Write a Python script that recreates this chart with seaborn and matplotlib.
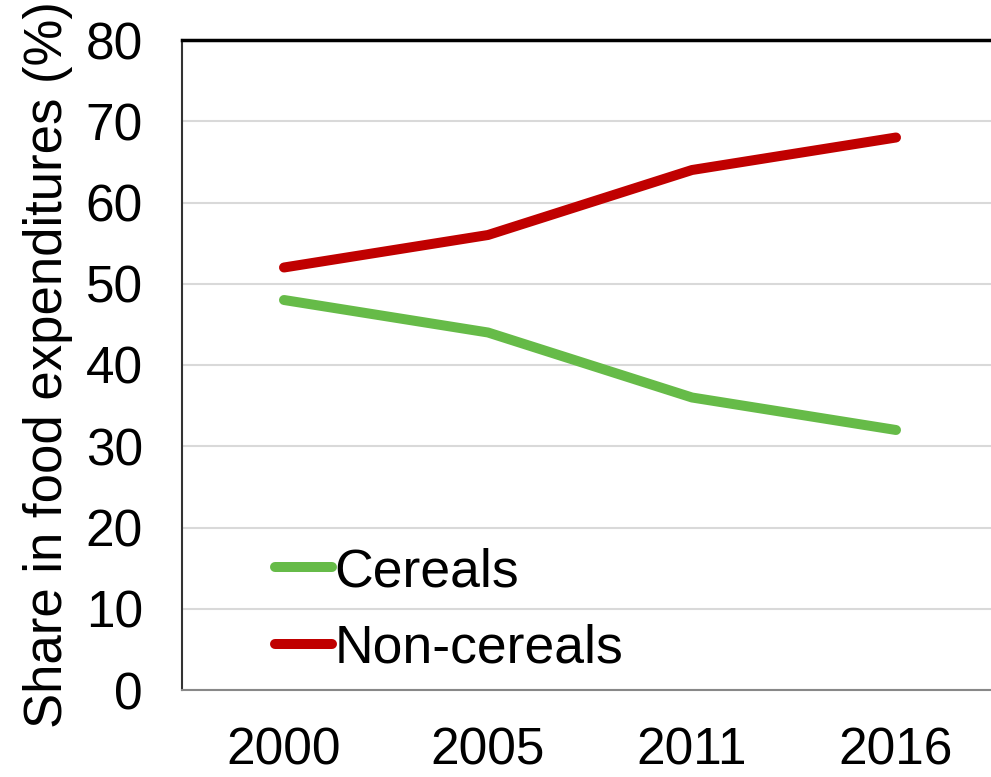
import matplotlib
matplotlib.use("Agg")
import matplotlib.pyplot as plt
import seaborn as sns
import pandas as pd

years = ["2000", "2005", "2011", "2016"]
cereals = [48, 44, 36, 32]
non_cereals = [52, 56, 64, 68]
series_names = ["Cereals", "Non-cereals"]
colors = {"Cereals": "#66bb48", "Non-cereals": "#c00000"}
y_ticks = [0, 10, 20, 30, 40, 50, 60, 70, 80]

df = pd.DataFrame({
    "Year": years * 2,
    "Share": cereals + non_cereals,
    "Group": [series_names[0]] * len(years) + [series_names[1]] * len(years),
})

sns.set_style("white")
plt.rcParams["font.family"] = ["Liberation Sans", "DejaVu Sans"]
plt.rcParams["text.color"] = "black"
plt.rcParams["axes.labelcolor"] = "black"

fig = plt.figure(figsize=(9.91, 7.77), dpi=100)
W, H = 991, 777
ax = fig.add_axes([182 / W, 1 - 690 / H, 816 / W, 650 / H])

sns.lineplot(data=df, x="Year", y="Share", hue="Group", palette=colors,
             linewidth=7.2, ax=ax, sort=False, legend=True,
             solid_capstyle="round")

ax.set_xlim(-0.5, 3.5)
ax.set_ylim(0, 80)
ax.set_yticks(y_ticks)
ax.yaxis.grid(True, color="#d9d9d9", linewidth=1.5)
ax.set_axisbelow(True)

ax.spines["right"].set_visible(False)
ax.spines["top"].set_color("black")
ax.spines["top"].set_linewidth(2.5)
ax.spines["left"].set_color("#333333")
ax.spines["left"].set_linewidth(1.5)
ax.spines["bottom"].set_color("#888888")
ax.spines["bottom"].set_linewidth(1.5)

ax.tick_params(axis="both", length=0, labelsize=37, colors="black")
ax.tick_params(axis="y", pad=28)
ax.tick_params(axis="x", pad=26)
ax.set_xlabel("")
ax.set_ylabel("Share in food expenditures (%)", fontsize=38, labelpad=9,
              color="black")

leg = ax.legend(loc="lower left", bbox_to_anchor=(0.088, -0.008), frameon=False,
                fontsize=38.5, handlelength=1.06, handletextpad=0.05,
                labelspacing=0.5, borderaxespad=0)
for text in leg.get_texts():
    text.set_color("black")
for line in leg.get_lines():
    line.set_linewidth(7.2)
    line.set_solid_capstyle("round")

fig.savefig("out.png", dpi=100)
